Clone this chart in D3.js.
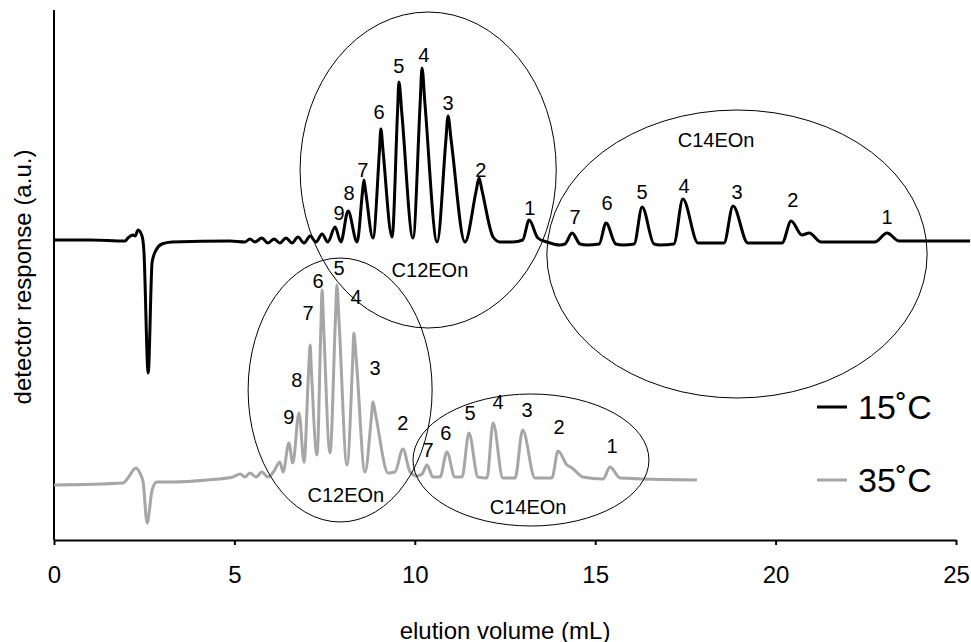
<!DOCTYPE html>
<html><head><meta charset="utf-8">
<script src="https://cdn.jsdelivr.net/npm/d3@7"></script>
<style>body{margin:0;background:#fff}svg{display:block;font-family:"Liberation Sans",Arial,sans-serif}</style>
</head><body><svg id="c" width="971" height="642"></svg>
<script>
// ---- data ----
const xTicks = [0, 5, 10, 15, 20, 25];
const seriesNames = ["15˚C", "35˚C"];

const vol15 = [0.00,1.00,1.97,2.05,2.19,2.25,2.33,2.44,2.49,2.61,2.72,2.83,2.99,3.27,4.88,
  5.29,5.43,5.57,5.76,5.93,6.10,6.26,6.43,6.60,6.76,6.93,7.10,7.26,7.43,7.59,
  7.79,7.95,8.15,8.40,
  8.55,8.59,8.64,8.84,
  9.02,9.06,9.12,9.37,
  9.52,9.56,9.64,9.95,
  10.15,10.20,10.28,10.62,
  10.86,10.92,11.01,11.39,
  11.70,11.78,11.86,12.17,12.36,12.72,12.99,
  13.17,13.41,13.66,14.02,
  14.16,14.36,14.58,14.77,
  15.11,15.30,15.57,15.77,
  16.08,16.30,16.63,16.80,
  17.18,17.43,17.85,18.07,
  18.57,18.82,19.23,19.84,
  20.18,20.43,20.73,20.93,21.26,
  22.75,23.09,23.42,25.39];
const resp15 = [300,300,299,302,305,304,310,304,290,167,278,290,296,298,299,
  298,301,298,302,297,301,297,302,297,303,297,304,298,306,298,
  313,298,329,298,
  348,360,348,302,
  389,411,389,303,
  427,458,427,302,
  438,472,437,298,
  399,424,399,298,
  349,362,350,303,298,298,300,
  320,302,298,295,
  296,307,296,295,
  296,317,296,295,
  296,333,296,295,
  296,341,297,297,
  297,334,297,297,
  297,319,305,307,298,
  298,307,299,299];

const vol35 = [0.00,1.91,2.05,2.27,2.38,2.47,2.58,2.72,2.85,3.30,4.24,4.96,
  5.16,5.29,5.43,5.60,5.76,5.93,6.10,
  6.26,6.35,6.51,6.62,6.79,6.93,
  7.06,7.10,7.13,7.29,
  7.40,7.43,7.47,7.65,
  7.80,7.84,7.90,8.12,
  8.28,8.31,8.38,8.62,
  8.80,8.84,8.92,9.26,
  9.45,9.67,9.87,10.06,
  10.20,10.34,10.50,
  10.70,10.89,11.11,
  11.31,11.50,11.75,
  12.00,12.17,12.44,
  12.78,12.99,13.33,
  13.80,13.97,14.22,14.36,14.66,
  15.22,15.41,15.69,17.82];
const resp35 = [55,57,62,72,67,58,17,50,58,58,60,63,
  66,63,67,63,68,63,69,
  78,68,97,77,127,78,
  172,195,173,85,
  217,250,217,87,
  221,255,219,75,
  181,207,179,68,
  124,138,124,67,
  68,91,68,64,
  66,75,63,
  63,88,63,
  63,107,63,
  62,117,62,
  62,110,62,
  62,89,75,72,63,
  61,73,62,60];

// peak labels (EO number) anchored in data units
const lab15Text = ["9","8","7","6","5","4","3","2","1","7","6","5","4","3","2","1"];
const lab15X = [7.90,8.18,8.56,9.01,9.56,10.25,10.92,11.83,13.19,14.44,15.33,16.30,17.46,18.93,20.48,23.09];
const lab15Y = [327,347,370,428,474,485,437,370,332,323,337,348,354,348,340,323];

const lab35Text = ["9","8","7","6","5","4","3","2","7","6","5","4","3","2","1"];
const lab35X = [6.51,6.73,7.04,7.32,7.90,8.37,8.90,9.67,10.37,10.86,11.53,12.31,13.11,14.00,15.47];
const lab35Y = [123,160,227,259,272,243,172,117,90,107,127,138,130,113,94];

// group ellipses (homologue families)
const groupName = ["C12EOn","C14EOn","C12EOn","C14EOn"];
const groupCX = [10.37,18.93,7.93,13.22];
const groupCY = [370,286,150,80];
const groupRX = [3.55,5.27,2.55,3.27];
const groupRY = [158,144,132,66];
const groupLabelX = [10.42,18.35,8.09,13.14];
const groupLabelY = [270,400,45,33];

// ---- drawing ----
const svg = d3.select("#c");
svg.append("rect").attr("width",971).attr("height",642).attr("fill","#fff");

const x = d3.scaleLinear().domain([0,25]).range([54,956]);
const y = d3.scaleLinear().domain([0,530]).range([540,10]);

const colors = ["#000000","#a6a6a6"];

// axes
const xAxis = d3.axisBottom(x).tickValues(xTicks).tickSize(5).tickPadding(21).tickSizeOuter(0);
const gx = svg.append("g").attr("transform","translate(0,540)").call(xAxis);
gx.select(".domain").attr("stroke","#000").attr("stroke-width",2);
gx.selectAll(".tick line").attr("stroke","#000").attr("stroke-width",2);
gx.selectAll(".tick text").attr("font-size",24).attr("fill","#000").attr("font-family","Liberation Sans, Arial, sans-serif");

svg.append("line").attr("x1",x(0)).attr("x2",x(0)).attr("y1",y(530)).attr("y2",y(0))
  .attr("stroke","#000").attr("stroke-width",2);

// traces
const line = d3.line().x(d=>x(d[0])).y(d=>y(d[1])).curve(d3.curveMonotoneX);
const d35 = vol35.map((v,i)=>[v,resp35[i]]);
const d15 = vol15.map((v,i)=>[v,resp15[i]]);
svg.append("path").datum(d35).attr("d",line).attr("fill","none").attr("stroke",colors[1]).attr("stroke-width",3).attr("stroke-linejoin","round");
svg.append("path").datum(d15).attr("d",line).attr("fill","none").attr("stroke",colors[0]).attr("stroke-width",3).attr("stroke-linejoin","round");

// ellipses
groupName.forEach((n,i)=>{
  svg.append("ellipse").attr("cx",x(groupCX[i])).attr("cy",y(groupCY[i]))
    .attr("rx",x(groupRX[i])-x(0)).attr("ry",y(0)-y(groupRY[i]))
    .attr("fill","none").attr("stroke","#000").attr("stroke-width",1);
  svg.append("text").attr("x",x(groupLabelX[i])).attr("y",y(groupLabelY[i]))
    .attr("text-anchor","middle").attr("dominant-baseline","central")
    .attr("font-size",20).text(n);
});

// peak labels
function labels(t,xs,ys){
  t.forEach((s,i)=>{
    svg.append("text").attr("x",x(xs[i])).attr("y",y(ys[i]))
      .attr("text-anchor","middle").attr("dominant-baseline","central")
      .attr("font-size",20).text(s);
  });
}
labels(lab15Text,lab15X,lab15Y);
labels(lab35Text,lab35X,lab35Y);

// legend
const legY = [407,480];
seriesNames.forEach((n,i)=>{
  svg.append("line").attr("x1",817).attr("x2",847).attr("y1",legY[i]).attr("y2",legY[i])
    .attr("stroke",colors[i]).attr("stroke-width",3);
  svg.append("text").attr("x",858).attr("y",legY[i]).attr("dominant-baseline","central")
    .attr("font-size",34).text(n);
});

// axis titles
svg.append("text").attr("x",505).attr("y",630).attr("text-anchor","middle").attr("dominant-baseline","central")
  .attr("font-size",24).text("elution volume (mL)");
svg.append("text").attr("transform","translate(22,277) rotate(-90)").attr("text-anchor","middle").attr("dominant-baseline","central")
  .attr("font-size",24).text("detector response (a.u.)");
</script></body></html>
